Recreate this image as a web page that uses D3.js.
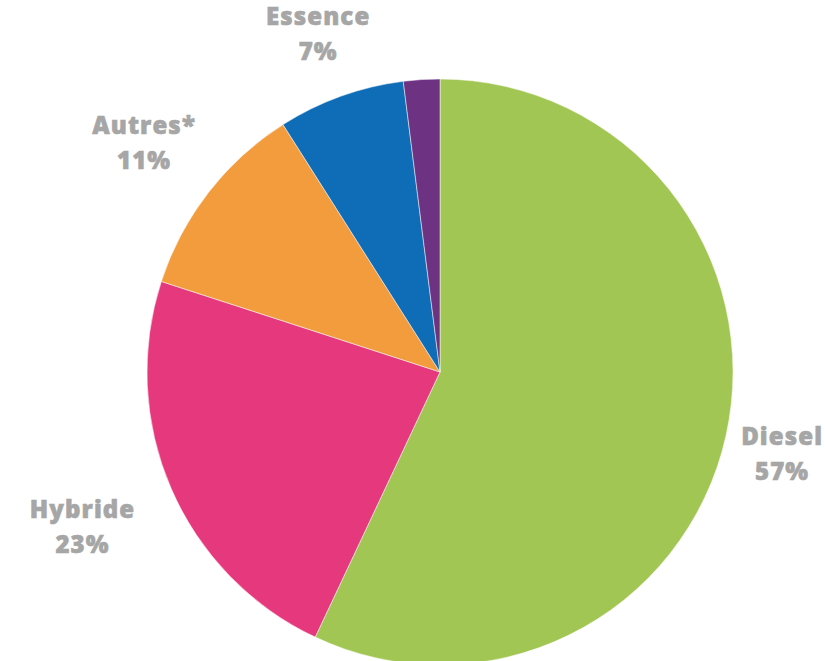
<!DOCTYPE html>
<html>
<head>
<meta charset="utf-8">
<script src="https://cdn.jsdelivr.net/npm/d3@7.9.0/dist/d3.min.js"></script>
<style>
  html, body { margin: 0; padding: 0; background: #fff; }
  svg { display: block; }
  .label {
    font-family: "Open Sans", sans-serif; font-weight: 800; font-size: 24px;
    letter-spacing: 1.1px; fill: #a6a6a6; stroke: #a6a6a6; stroke-width: 0.6px;
  }
</style>
</head>
<body>
<svg width="825" height="661"></svg>
<script>
// Categories and shares (percent), clockwise from 12 o'clock
const categories = ["Diesel", "Hybride", "Autres*", "Essence", "Électrique"];
const shares = [57, 23, 11, 7, 2];
const showLabel = [true, true, true, true, false];
const colors = ["#a2c653", "#e6387c", "#f39c3e", "#0e6db6", "#6e3283"];

const width = 825, height = 661;
const cx = 440, cy = 372, radius = 293;
const labelGap = 332;      // distance from centre to the near edge of a label block
const fontSize = 24;
const lineHeight = 35;
const capH = fontSize * 0.714;

const data = categories.map((c, i) => ({ label: c, value: shares[i], idx: i }));

const pie = d3.pie().sort(null).value((d) => d.value);
const arcData = pie(data);
const arc = d3.arc().innerRadius(0).outerRadius(radius);

const svg = d3.select("svg");
const g = svg.append("g").attr("transform", `translate(${cx}, ${cy})`);

g.selectAll("path")
  .data(arcData)
  .enter()
  .append("path")
  .attr("d", arc)
  .attr("fill", (d) => colors[d.data.idx])
  .attr("stroke", "#fff")
  .attr("stroke-width", 0.5);

// Labels: two-line block outside the slice, kept inside the frame
const labels = svg.selectAll("text.label")
  .data(arcData.filter((d) => showLabel[d.data.idx]))
  .enter()
  .append("text")
  .attr("class", "label")
  .attr("text-anchor", "middle");

labels.append("tspan").attr("x", 0).attr("y", 0).text((d) => d.data.label);
labels.append("tspan").attr("x", 0).attr("y", lineHeight).text((d) => d.data.value + "%");

labels.each(function (d) {
  const box = this.getBBox();
  const w = box.width, h = lineHeight + capH;
  const a = (d.startAngle + d.endAngle) / 2;
  const ux = Math.sin(a), uy = -Math.cos(a);
  // distance from block centre to its edge along the ray
  const edge = Math.min(w / 2 / Math.max(Math.abs(ux), 1e-6), h / 2 / Math.max(Math.abs(uy), 1e-6));
  const dist = labelGap + edge;
  let x = cx + dist * ux;
  const y = cy + dist * uy;
  x = Math.min(Math.max(x, 10 + w / 2), width - 2 - w / 2);
  d3.select(this).attr("transform", `translate(${x}, ${y - h / 2 + capH})`);
});
</script>
</body>
</html>
